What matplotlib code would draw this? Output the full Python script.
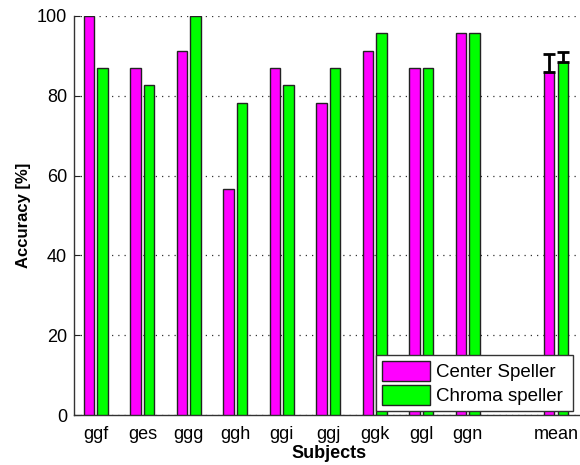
import numpy as np
import matplotlib
matplotlib.use("Agg")
import matplotlib.pyplot as plt

plt.rcParams['font.family'] = ['Liberation Sans', 'DejaVu Sans']

# accuracy per subject (23 trials each)
subjects = ["ggf", "ges", "ggg", "ggh", "ggi", "ggj", "ggk", "ggl", "ggn", "mean"]
positions = [1, 2, 3, 4, 5, 6, 7, 8, 9, 10.9]
center = [100.0, 86.96, 91.30, 56.52, 86.96, 78.26, 91.30, 86.96, 95.65, 85.99]
chroma = [86.96, 82.61, 100.0, 78.26, 82.61, 86.96, 95.65, 86.96, 95.65, 88.41]
center_err = [0, 0, 0, 0, 0, 0, 0, 0, 0, 4.5]
chroma_err = [0, 0, 0, 0, 0, 0, 0, 0, 0, 2.5]

fig = plt.figure(figsize=(5.8, 4.65), dpi=100)
ax = fig.add_axes([74 / 580, 1 - 415 / 465, 510 / 580, 399 / 465])

x = np.array(positions, dtype=float)
w = 0.22
off = 0.145
ax.bar(x - off, center, w, color="#ff00ff", edgecolor="#222222", linewidth=1.0,
       label="Center Speller", zorder=3)
ax.bar(x + off, chroma, w, color="#00ff00", edgecolor="#222222", linewidth=1.0,
       label="Chroma speller", zorder=3)

# error bars only on the mean group
m = np.array(center_err) > 0
ax.errorbar(x[m] - off, np.array(center)[m], yerr=[np.zeros(m.sum()), np.array(center_err)[m]],
            fmt="none", ecolor="black", elinewidth=2, capsize=4, capthick=2, zorder=4)
m = np.array(chroma_err) > 0
ax.errorbar(x[m] + off, np.array(chroma)[m], yerr=[np.zeros(m.sum()), np.array(chroma_err)[m]],
            fmt="none", ecolor="black", elinewidth=2, capsize=4, capthick=2, zorder=4)

ax.set_xlim(0.53, 11.5)
ax.set_ylim(0, 100)
ax.set_yticks([0, 20, 40, 60, 80, 100])
ax.set_xticks(positions)
ax.set_xticklabels(subjects)
ax.tick_params(direction="in", labelsize=13, length=4, width=0.8, colors="#222222")
ax.tick_params(axis="x", length=0, pad=8)
ax.tick_params(axis="y", pad=5)
for lbl in ax.get_xticklabels() + ax.get_yticklabels():
    lbl.set_color("black")

ax.yaxis.grid(True, linestyle=(0, (1, 4)), color="#333333", linewidth=0.9)
ax.set_axisbelow(True)
for side in ["top", "right"]:
    ax.spines[side].set_visible(False)
for side in ["left", "bottom"]:
    ax.spines[side].set_color("#333333")
    ax.spines[side].set_linewidth(1.0)

ax.set_xlabel("Subjects", fontsize=13, fontweight="bold", labelpad=1)
ax.set_ylabel("Accuracy [%]", fontsize=12, fontweight="bold", labelpad=4)

leg = ax.legend(loc="lower left", bbox_to_anchor=(376 / 580, 1 - 411 / 465, 197 / 580, 64 / 465),
                bbox_transform=fig.transFigure, mode="expand", fontsize=13.5,
                handlelength=2.6, handleheight=1.3, handletextpad=0.3,
                borderpad=0.3, labelspacing=0.2, fancybox=False, framealpha=1,
                edgecolor="#333333", borderaxespad=0)
leg.get_frame().set_linewidth(1.0)
leg.set_zorder(10)

fig.savefig("out.png", dpi=100)
